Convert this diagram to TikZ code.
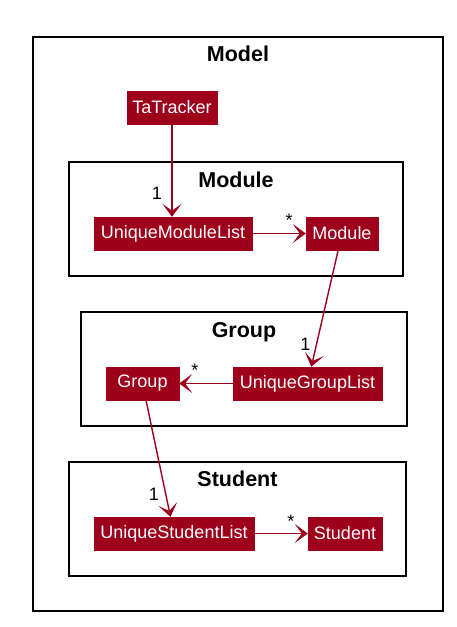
\documentclass[tikz,border=0pt]{standalone}
\usepackage{fontspec}
\setmainfont{Liberation Sans}
\usetikzlibrary{arrows.meta}
\definecolor{umlred}{HTML}{9E001C}
\begin{document}
\begin{tikzpicture}[x=1pt, y=-1pt,
	cls/.style={fill=umlred, draw=umlred, text=white, minimum height=33pt, inner sep=0pt, font=\fontsize{18}{20}\selectfont},
	pkg/.style={draw=black, line width=1.6pt},
	pkgname/.style={anchor=base, font=\fontsize{21.5}{24}\bfseries},
	mult/.style={anchor=base, font=\fontsize{18}{20}\selectfont},
	assoc/.style={draw=umlred, line width=1.4pt, -{Stealth[length=13pt, width=19pt, inset=7pt]}}]
	\useasboundingbox (0,0) rectangle (457,627);

	\draw[pkg] (33,37) rectangle (443,611);
	\node[pkgname] (model) at (238,61) {Model};

	\draw[pkg] (69,162) rectangle (403,276);
	\node[pkgname] (module) at (236,187) {Module};

	\draw[pkg] (81,312) rectangle (407,426);
	\node[pkgname] (group) at (244,337) {Group};

	\draw[pkg] (69,462) rectangle (406,576);
	\node[pkgname] (student) at (237.5,486) {Student};

	\node[cls, minimum width=90pt] (ta) at (172,107.5) {TaTracker};
	\node[cls, minimum width=158pt] (uml) at (173,233.5) {UniqueModuleList};
	\node[cls, minimum width=72pt] (mod) at (342,233.5) {Module};
	\node[cls, minimum width=149pt] (ugl) at (307.5,383.5) {UniqueGroupList};
	\node[cls, minimum width=73pt] (grp) at (142.5,383.5) {Group};
	\node[cls, minimum width=160pt] (usl) at (174,533.5) {UniqueStudentList};
	\node[cls, minimum width=74pt] (stu) at (345,533.5) {Student};

	\draw[assoc] (ta.south) -- (ta.south |- uml.north);
	\draw[assoc] (uml.east) -- (mod.west);
	\draw[assoc] (mod) -- (ugl);
	\draw[assoc] (ugl.west) -- (grp.east);
	\draw[assoc] (grp) -- (usl);
	\draw[assoc] (usl.east) -- (stu.west);

	\node[mult] (m1) at (157,199) {1};
	\node[mult] (s1) at (289,226) {*};
	\node[mult] (m2) at (305.5,350) {1};
	\node[mult] (s2) at (195,376) {*};
	\node[mult] (m3) at (154,500) {1};
	\node[mult] (s3) at (291,527) {*};
\end{tikzpicture}
\end{document}
